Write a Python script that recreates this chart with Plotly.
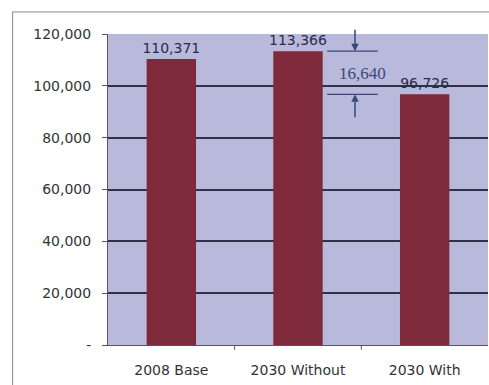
import plotly.graph_objects as go

categories = ["2008 Base", "2030 Without", "2030 With"]
values = [110371, 113366, 96726]
value_labels = ["110,371", "113,366", "96,726"]
tick_vals = [0, 20000, 40000, 60000, 80000, 100000, 120000]
tick_text = ["-", "20,000", "40,000", "60,000", "80,000", "100,000", "120,000"]
diff_label = "16,640"

FONT = "DejaVu Sans, Verdana, Arial"

fig = go.Figure()
fig.add_trace(go.Bar(
    x=[0, 1, 2], y=values, width=0.39,
    marker=dict(color="#7e2a3a", line=dict(width=0)),
    text=value_labels, textposition="outside", cliponaxis=False, constraintext="none",
    textfont=dict(family=FONT, size=14, color="#2b2b4a"),
))

navy = "#3a4878"
for v in (values[1], values[2]):
    fig.add_shape(type="line", x0=1.23, x1=1.63, y0=v, y1=v, xref="x", yref="y",
                  line=dict(color=navy, width=1.2))
fig.add_annotation(x=1.45, y=values[1], ax=1.45, ay=122200, xref="x", yref="y",
                   axref="x", ayref="y", showarrow=True, arrowhead=2, arrowsize=1,
                   arrowwidth=1.5, arrowcolor=navy, text="")
fig.add_annotation(x=1.45, y=values[2], ax=1.45, ay=87300, xref="x", yref="y",
                   axref="x", ayref="y", showarrow=True, arrowhead=2, arrowsize=1,
                   arrowwidth=1.5, arrowcolor=navy, text="")
fig.add_annotation(x=1.51, y=104800, xref="x", yref="y", text=diff_label,
                   showarrow=False,
                   font=dict(family="Liberation Serif, Times New Roman, serif", size=17, color=navy))

fig.add_shape(type="rect", xref="paper", yref="paper", x0=-0.251, x1=1.05, y0=-0.2, y1=1.071,
              line=dict(color="#8a8a8a", width=1), layer="below")

fig.update_layout(
    width=489, height=385,
    margin=dict(l=108, r=1, t=34, b=40),
    paper_bgcolor="white", plot_bgcolor="#b9b9dc",
    showlegend=False, bargap=0.61,
    font=dict(family=FONT, size=14, color="#333333"),
)
fig.update_xaxes(range=[-0.5, 2.5], tickvals=[0, 1, 2], ticktext=categories,
                 showgrid=False, showline=True, linecolor="#555566", linewidth=1,
                 ticks="", tickfont=dict(family=FONT, size=14, color="#333333"),
                 ticklabelstandoff=12)
for xb in (0.5, 1.5):
    fig.add_shape(type="line", xref="x", yref="paper", x0=xb, x1=xb, y0=0, y1=-0.015,
                  line=dict(color="#555566", width=1))
fig.update_yaxes(range=[0, 120000], tickvals=tick_vals, ticktext=tick_text,
                 showgrid=True, gridcolor="#303048", gridwidth=1.8,
                 showline=True, linecolor="#555566", linewidth=1,
                 ticks="outside", ticklen=5, tickcolor="#555566",
                 tickfont=dict(family=FONT, size=14, color="#333333"), zeroline=False,
                 ticklabelstandoff=8)

fig.write_html("out.html", config={"displayModeBar": False},
               post_script="document.body.style.margin='0';document.body.style.overflow='hidden';")
